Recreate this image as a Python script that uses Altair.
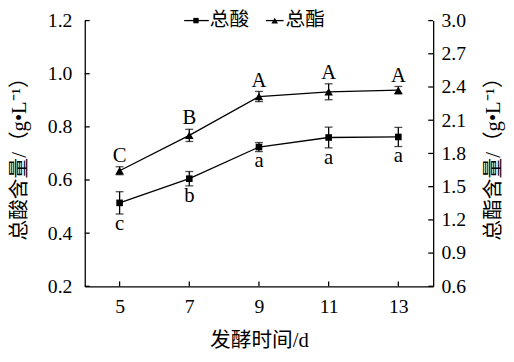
import altair as alt
import pandas as pd

# ---- data ----
days = [5, 7, 9, 11, 13]
acid = [0.514, 0.605, 0.724, 0.760, 0.762]
acid_err = [0.042, 0.027, 0.017, 0.039, 0.036]
acid_letters = ["c", "b", "a", "a", "a"]
ester = [1.644, 1.963, 2.314, 2.357, 2.371]
ester_err = [0.036, 0.055, 0.046, 0.072, 0.034]
ester_letters = ["C", "B", "A", "A", "A"]
x_ticks = [5, 7, 9, 11, 13]
left_ticks = [0.2, 0.4, 0.6, 0.8, 1.0, 1.2]
right_ticks = [0.6, 0.9, 1.2, 1.5, 1.8, 2.1, 2.4, 2.7, 3.0]
legend_names = ["总酸", "总酯"]

W, H = 354, 270
NUM_FONT = "Liberation Serif"
CJK_FONT = "'Liberation Serif', 'Noto Sans CJK SC'"
LW = 1.3

acid_df = pd.DataFrame({
    "day": days, "v": acid,
    "lo": [a - e for a, e in zip(acid, acid_err)],
    "hi": [a + e for a, e in zip(acid, acid_err)],
    "letter": acid_letters,
})
ester_df = pd.DataFrame({
    "day": days, "v": ester,
    "lo": [a - e for a, e in zip(ester, ester_err)],
    "hi": [a + e for a, e in zip(ester, ester_err)],
    "letter": ester_letters,
})

x_scale = alt.Scale(domain=[4, 14], nice=False, zero=False)
x_axis = alt.Axis(
    values=x_ticks, ticks=False, grid=False, domainColor="black", domainWidth=LW,
    labelFont=NUM_FONT, labelFontSize=20, labelColor="black", labelPadding=11,
    title="发酵时间/d", titleFont=CJK_FONT, titleFontSize=21, titleFontWeight="normal",
    titleColor="black", titleX=W / 2, titleY=55, titleBaseline="middle", titleAlign="center",
)
l_scale = alt.Scale(domain=[0.2, 1.2], nice=False, zero=False)
l_axis = alt.Axis(
    orient="left", values=left_ticks, format=".1f", ticks=False, grid=False,
    domainColor="black", domainWidth=LW,
    labelFont=NUM_FONT, labelFontSize=20, labelColor="black", labelPadding=13,
    title="总酸含量/（g•L⁻¹）", titleFont=CJK_FONT, titleFontSize=21, titleFontWeight="normal",
    titleColor="black", titleAngle=270, titleX=-66, titleY=H / 2,
    titleBaseline="middle", titleAlign="center",
)
r_scale = alt.Scale(domain=[0.6, 3.0], nice=False, zero=False)
r_axis = alt.Axis(
    orient="right", values=right_ticks, format=".1f", ticks=False, grid=False,
    domainColor="black", domainWidth=LW,
    labelFont=NUM_FONT, labelFontSize=20, labelColor="black", labelPadding=8,
    title="总酯含量/（g•L⁻¹）", titleFont=CJK_FONT, titleFontSize=21, titleFontWeight="normal",
    titleColor="black", titleAngle=270, titleX=61, titleY=H / 2,
    titleBaseline="middle", titleAlign="center",
)

X = alt.X("day:Q", scale=x_scale, axis=x_axis)


def series_layers(df, yscale, yaxis, shape, size, up):
    Y = alt.Y("v:Q", scale=yscale, axis=yaxis)
    base = alt.Chart(df)
    line = base.mark_line(color="black", strokeWidth=LW).encode(x=X, y=Y)
    err = base.mark_rule(color="black", strokeWidth=LW).encode(
        x=X, y=alt.Y("lo:Q", scale=yscale, axis=yaxis), y2="hi:Q")
    cap_lo = base.mark_tick(color="black", orient="horizontal", size=8, thickness=LW).encode(
        x=X, y=alt.Y("lo:Q", scale=yscale, axis=yaxis))
    cap_hi = base.mark_tick(color="black", orient="horizontal", size=8, thickness=LW).encode(
        x=X, y=alt.Y("hi:Q", scale=yscale, axis=yaxis))
    pts = base.mark_point(shape=shape, filled=True, color="black", size=size, opacity=1).encode(x=X, y=Y)
    if up:
        txt = base.mark_text(font=NUM_FONT, fontSize=21, color="black", baseline="alphabetic", dy=-5).encode(
            x=X, y=alt.Y("hi:Q", scale=yscale, axis=yaxis), text="letter:N")
    else:
        txt = base.mark_text(font=NUM_FONT, fontSize=21, color="black", baseline="alphabetic", dy=16).encode(
            x=X, y=alt.Y("lo:Q", scale=yscale, axis=yaxis), text="letter:N")
    return [line, err, cap_lo, cap_hi, pts, txt]


# inward axis ticks
xt = alt.Chart(pd.DataFrame({"t": x_ticks})).mark_rule(color="black", strokeWidth=LW).encode(
    x=alt.X("t:Q", scale=x_scale, axis=x_axis), y=alt.value(H), y2=alt.value(H - 5))
lt = alt.Chart(pd.DataFrame({"t": left_ticks})).mark_rule(color="black", strokeWidth=LW).encode(
    y=alt.Y("t:Q", scale=l_scale, axis=l_axis), x=alt.value(0), x2=alt.value(5))
rt = alt.Chart(pd.DataFrame({"t": right_ticks})).mark_rule(color="black", strokeWidth=LW).encode(
    y=alt.Y("t:Q", scale=r_scale, axis=r_axis), x=alt.value(W), x2=alt.value(W - 5))

# legend
LEG_Y = 0
leg1 = pd.DataFrame({"name": [legend_names[0]]})
leg2 = pd.DataFrame({"name": [legend_names[1]]})
legend_layers = [
    alt.Chart(leg1).mark_rule(color="black", strokeWidth=LW).encode(
        x=alt.value(101), x2=alt.value(126), y=alt.value(LEG_Y)),
    alt.Chart(leg1).mark_point(shape="square", filled=True, color="black", size=30, opacity=1).encode(
        x=alt.value(113), y=alt.value(LEG_Y)),
    alt.Chart(leg1).mark_text(font=CJK_FONT, fontSize=20, color="black", align="left", baseline="middle").encode(
        x=alt.value(127), y=alt.value(LEG_Y), text="name:N"),
    alt.Chart(leg2).mark_rule(color="black", strokeWidth=LW).encode(
        x=alt.value(184), x2=alt.value(202), y=alt.value(LEG_Y)),
    alt.Chart(leg2).mark_point(shape="triangle-up", filled=True, color="black", size=45, opacity=1).encode(
        x=alt.value(193), y=alt.value(LEG_Y)),
    alt.Chart(leg2).mark_text(font=CJK_FONT, fontSize=20, color="black", align="left", baseline="middle").encode(
        x=alt.value(204), y=alt.value(LEG_Y), text="name:N"),
]

left_group = alt.layer(*series_layers(acid_df, l_scale, l_axis, "square", 45, False), lt, xt, *legend_layers)
right_group = alt.layer(*series_layers(ester_df, r_scale, r_axis, "triangle-up", 75, True), rt)

chart = alt.layer(left_group, right_group).resolve_scale(y="independent").properties(
    width=W, height=H,
    autosize=alt.AutoSizeParams(type="none"),
    padding={"left": 78, "top": 10, "right": 74, "bottom": 66},
    background="white",
).configure_view(stroke=None)

chart.save("out.html", embed_options={"renderer": "svg", "actions": False})
